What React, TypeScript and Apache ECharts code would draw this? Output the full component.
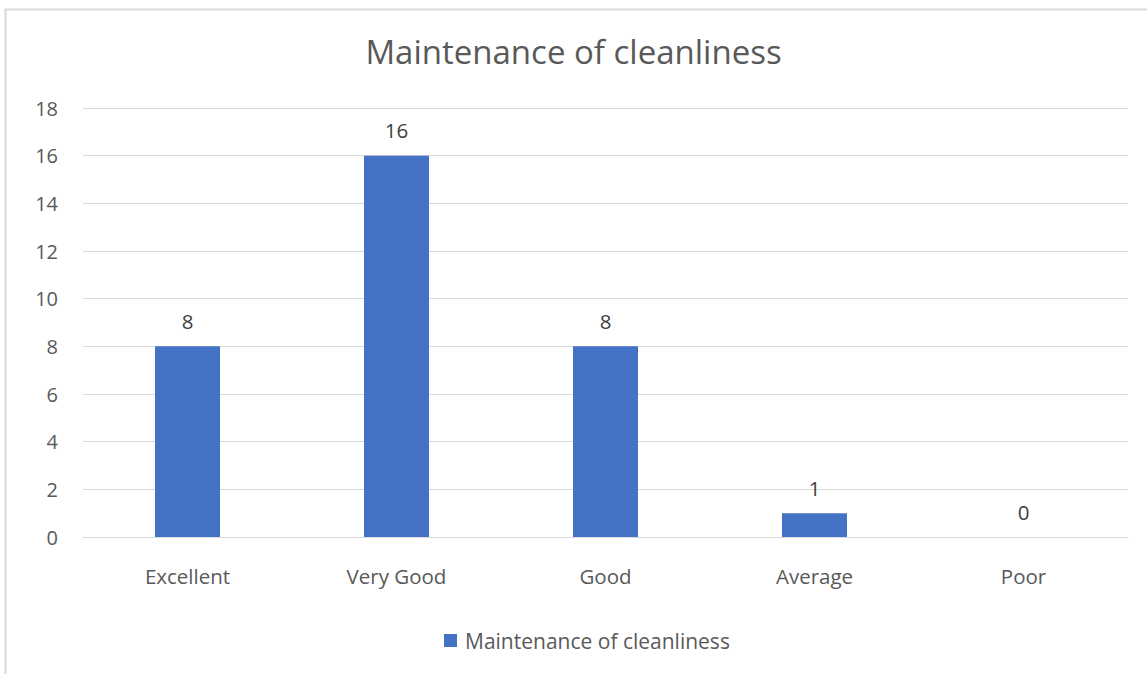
import React, { useEffect, useRef } from "react";
import * as echarts from "echarts";

const categories = ["Excellent", "Very Good", "Good", "Average", "Poor"];
const values = [8, 16, 8, 1, 0];
const seriesName = "Maintenance of cleanliness";
const titleText = "Maintenance of cleanliness";

export default function App() {
  const ref = useRef<HTMLDivElement>(null);
  useEffect(() => {
    if (!ref.current) return;
    const chart = echarts.init(ref.current, undefined, { renderer: "svg" });
    const font = "'Open Sans', sans-serif";
    chart.setOption({
      animation: false,
      backgroundColor: "#ffffff",
      textStyle: { fontFamily: font },
      title: {
        text: titleText,
        left: "center",
        top: 30,
        textStyle: { fontFamily: font, fontSize: 33, fontWeight: "normal", color: "#595959" },
      },
      graphic: [
        {
          type: "rect",
          shape: { x: 5.5, y: 9.5, width: 1300, height: 800 },
          style: { fill: "none", stroke: "#d9d9d9", lineWidth: 2 },
          silent: true,
          z: -1,
        },
      ],
      grid: { left: 83, right: 19, top: 108, bottom: 137, containLabel: false },
      xAxis: {
        type: "category",
        data: categories,
        axisLine: { lineStyle: { color: "#d9d9d9", width: 1 } },
        axisTick: { show: false },
        axisLabel: { color: "#595959", fontSize: 20.5, fontFamily: font, margin: 28 },
      },
      yAxis: {
        type: "value",
        min: 0,
        max: 18,
        interval: 2,
        axisLine: { show: false },
        axisTick: { show: false },
        splitLine: { lineStyle: { color: "#d9d9d9", width: 1 } },
        axisLabel: { color: "#595959", fontSize: 20, fontFamily: font, margin: 25 },
      },
      legend: {
        bottom: 18,
        left: 439,
        itemWidth: 13,
        itemHeight: 13,
        itemGap: 8,
        icon: "rect",
        textStyle: { color: "#595959", fontSize: 21, fontFamily: font, padding: [0, 0, 0, 3] },
        data: [seriesName],
      },
      series: [
        {
          name: seriesName,
          type: "bar",
          data: values,
          barWidth: 65,
          itemStyle: { color: "#4472C4" },
          label: {
            show: true,
            position: "top",
            distance: 15,
            color: "#404040",
            fontSize: 20.5,
            fontFamily: font,
          },
        },
      ],
    });
    return () => chart.dispose();
  }, []);
  return (
    <div
      ref={ref}
      style={{ position: "fixed", left: 0, top: 0, width: 1147, height: 674 }}
    />
  );
}
